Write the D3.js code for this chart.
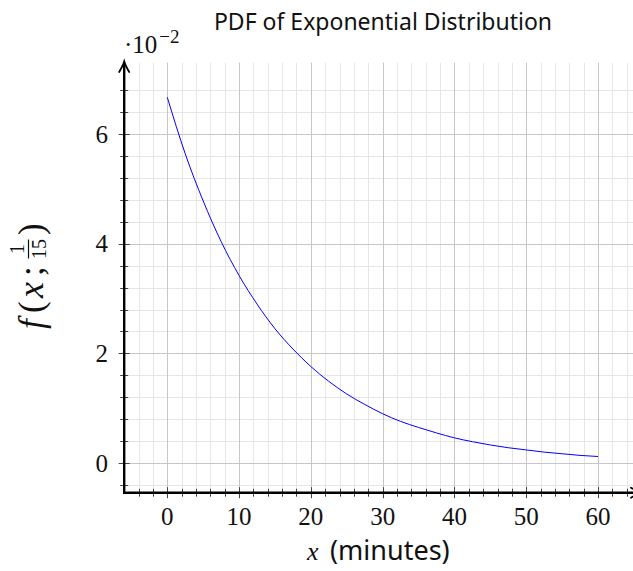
<!DOCTYPE html>
<html>
<head>
<meta charset="utf-8">
<script src="https://cdn.jsdelivr.net/npm/d3@7"></script>
<style>
  body { margin: 0; background: #fff; }
  svg { display: block; }
</style>
</head>
<body>
<div id="chart"></div>
<script>
// samples (minutes, density)
var minutes = [0, 2.5, 5, 7.5, 10, 12.5, 15, 17.5, 20, 22.5, 25, 27.5, 30,
               32.5, 35, 37.5, 40, 42.5, 45, 47.5, 50, 52.5, 55, 57.5, 60];
var density = [0.0667, 0.0564, 0.0478, 0.0404, 0.0342, 0.0290, 0.0245, 0.0208,
               0.0176, 0.0149, 0.0126, 0.0107, 0.0090, 0.0076, 0.0065, 0.0055,
               0.0046, 0.0039, 0.0033, 0.0028, 0.0024, 0.0020, 0.0017, 0.0014, 0.0012];

var xTicks = [0, 10, 20, 30, 40, 50, 60];
var yTicks = [0, 0.02, 0.04, 0.06];
var yTickLabels = ["0", "2", "4", "6"];

var width = 633, height = 571;

var x = d3.scaleLinear().domain([-6, 65]).range([124.2, 633.9]);
var y = d3.scaleLinear().domain([-0.0054, 0.073]).range([492.7, 62.7]);

var xMinor = d3.range(-4, 65, 2).filter(d => d % 10 !== 0);
var yMinor = d3.range(-4, 69, 4).map(d => d / 1000).filter(d => Math.round(d * 1000) % 20 !== 0);

var svg = d3.select("#chart").append("svg")
    .attr("width", width)
    .attr("height", height);

var serif = "'Liberation Serif', 'DejaVu Serif', serif";
var sans = "'Noto Sans', 'Open Sans', sans-serif";

var x0 = x.range()[0], y0 = y.range()[0], yTop = y.range()[1];
var snap = v => Math.round(v) + 0.5;

// minor grid
var grid = svg.append("g");
grid.selectAll(".vminor").data(xMinor).enter().append("line")
    .attr("x1", d => snap(x(d))).attr("x2", d => snap(x(d)))
    .attr("y1", y0).attr("y2", yTop)
    .attr("stroke", "#e6e6e6");
grid.selectAll(".hminor").data(yMinor).enter().append("line")
    .attr("x1", x0).attr("x2", width)
    .attr("y1", d => snap(y(d))).attr("y2", d => snap(y(d)))
    .attr("stroke", "#e6e6e6");
// major grid
grid.selectAll(".vmajor").data(xTicks).enter().append("line")
    .attr("x1", d => snap(x(d))).attr("x2", d => snap(x(d)))
    .attr("y1", y0).attr("y2", yTop)
    .attr("stroke", "#c6c6c6");
grid.selectAll(".hmajor").data(yTicks).enter().append("line")
    .attr("x1", x0).attr("x2", width)
    .attr("y1", d => snap(y(d))).attr("y2", d => snap(y(d)))
    .attr("stroke", "#c6c6c6");

// the curve
var pts = minutes.map((m, i) => [m, density[i]]);
svg.append("path")
    .datum(pts)
    .attr("fill", "none")
    .attr("stroke", "#0000ff")
    .attr("stroke-width", 1)
    .attr("d", d3.line().x(d => x(d[0])).y(d => y(d[1])).curve(d3.curveMonotoneX));

// axis ticks
var ticks = svg.append("g").attr("stroke", "#444").attr("stroke-width", 1);
ticks.selectAll(".xt").data(xTicks.concat(xMinor)).enter().append("line")
    .attr("x1", d => snap(x(d))).attr("x2", d => snap(x(d)))
    .attr("y1", d => y0 - (xTicks.includes(d) ? 5.5 : 4))
    .attr("y2", d => y0 + (xTicks.includes(d) ? 5.5 : 4));
ticks.selectAll(".yt").data(yTicks.concat(yMinor)).enter().append("line")
    .attr("y1", d => snap(y(d))).attr("y2", d => snap(y(d)))
    .attr("x1", d => x0 - (yTicks.includes(d) ? 5.5 : 4))
    .attr("x2", d => x0 + (yTicks.includes(d) ? 5.5 : 4));

// axis lines with arrows
var axes = svg.append("g").attr("stroke", "#000").attr("fill", "none")
    .attr("stroke-width", 2.4);
axes.append("line").attr("x1", x0).attr("x2", x0).attr("y1", y0 + 1.2).attr("y2", 62.5);
axes.append("line").attr("x1", x0 - 1.2).attr("x2", 641).attr("y1", y0).attr("y2", y0);
axes.append("path")
    .attr("stroke-width", 1.8).attr("stroke-linecap", "round")
    .attr("d", `M${x0 - 5},${72} Q${x0 - 1},${65} ${x0},${61.5} Q${x0 + 1},${65} ${x0 + 5},${72}`);
axes.append("path")
    .attr("stroke-width", 1.8).attr("stroke-linecap", "round")
    .attr("d", `M${631},${y0 - 5} Q${638},${y0 - 1} ${641.5},${y0} Q${638},${y0 + 1} ${631},${y0 + 5}`);

// tick labels
svg.append("g").selectAll("text").data(xTicks).enter().append("text")
    .attr("x", d => x(d))
    .attr("y", 525)
    .attr("text-anchor", "middle")
    .attr("font-family", serif)
    .attr("font-size", 25)
    .attr("fill", "#111")
    .text(d => d);
svg.append("g").selectAll("text").data(yTicks).enter().append("text")
    .attr("x", 108)
    .attr("y", d => y(d) + 8.5)
    .attr("text-anchor", "end")
    .attr("font-family", serif)
    .attr("font-size", 25)
    .attr("fill", "#111")
    .text((d, i) => yTickLabels[i]);

// scale factor ·10^-2
var sf = svg.append("text")
    .attr("x", 124)
    .attr("y", 53)
    .attr("font-family", serif)
    .attr("font-size", 25)
    .attr("fill", "#111");
sf.append("tspan").text("\u00b710");
sf.append("tspan").attr("font-size", 19).attr("dy", -10).attr("dx", 2).text("\u22122");

// title
svg.append("text")
    .attr("x", 383)
    .attr("y", 30)
    .attr("text-anchor", "middle")
    .attr("font-family", sans)
    .attr("font-size", 23)
    .attr("fill", "#111")
    .text("PDF of Exponential Distribution");

// x label
var xl = svg.append("text")
    .attr("x", 307)
    .attr("y", 560)
    .attr("font-size", 26)
    .attr("fill", "#111");
xl.append("tspan").attr("font-family", serif).attr("font-style", "italic").text("x");
xl.append("tspan").attr("font-family", sans).attr("font-size", 27).attr("x", 330).text("(minutes)");

// y label f(x; 1/15), rotated
var yl = svg.append("g").attr("transform", "translate(43,279) rotate(-90)")
    .attr("font-family", serif).attr("fill", "#111");
yl.append("text").attr("x", -50).attr("y", 0)
    .attr("font-size", 35).attr("font-style", "italic").text("f");
yl.append("text").attr("x", -34).attr("y", 0).attr("font-size", 35).text("(");
yl.append("text").attr("x", -19).attr("y", 0)
    .attr("font-size", 36).attr("font-style", "italic").text("x");
yl.append("text").attr("x", 3).attr("y", 0).attr("font-size", 35).text(";");
yl.append("text").attr("x", 30).attr("y", -19).attr("text-anchor", "middle")
    .attr("font-size", 20).text("1");
yl.append("line").attr("x1", 20.5).attr("x2", 39.5).attr("y1", -14.5).attr("y2", -14.5)
    .attr("stroke", "#111").attr("stroke-width", 1.2);
yl.append("text").attr("x", 30).attr("y", 3).attr("text-anchor", "middle")
    .attr("font-size", 20).text("15");
yl.append("text").attr("x", 44).attr("y", 0).attr("font-size", 35).text(")");
</script>
</body>
</html>
